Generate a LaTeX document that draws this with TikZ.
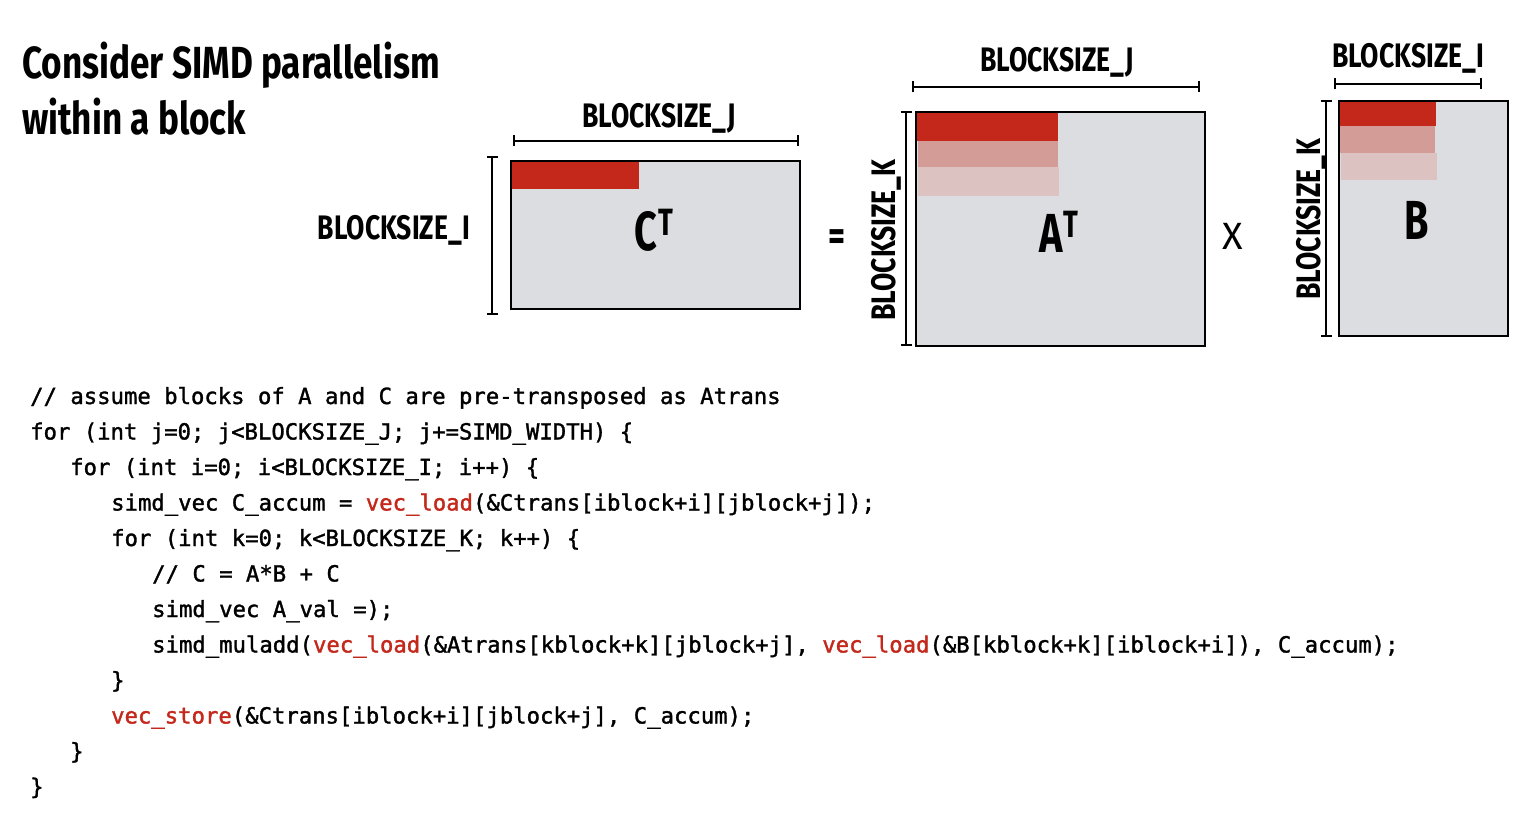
\documentclass[tikz,border=0pt]{standalone}
\usepackage{fontspec}
\usetikzlibrary{arrows.meta}
\newfontfamily\headfont{Fira Sans}[FakeStretch=0.78]
\newfontfamily\matfont{Fira Sans}[FakeStretch=0.72]
\newfontfamily\plainfont{Fira Sans}
\newfontfamily\codefont{DejaVu Sans Mono}[FakeBold=1.5]
\definecolor{blockgray}{HTML}{DCDDE0}
\definecolor{hotred}{HTML}{C4281B}
\definecolor{midred}{HTML}{D49C96}
\definecolor{palered}{HTML}{DDC2C2}
\newcommand{\kw}[1]{\textcolor{hotred}{#1}}
\begin{document}
\begin{tikzpicture}[x=1pt,y=-1pt,
  frame/.style={draw=black, line width=2pt, anchor=north west, inner sep=0pt, outer sep=0pt},
  dimline/.style={line width=1.8pt, {Bar[width=11pt,line width=1.8pt]}-{Bar[width=11pt,line width=1.8pt]}},
  dimlabel/.style={font=\headfont\bfseries\fontsize{34}{34}\selectfont, inner sep=0pt},
  matlabel/.style={font=\matfont\bfseries\fontsize{55}{55}\selectfont, inner sep=0pt, anchor=base},
  titletext/.style={font=\headfont\bfseries\fontsize{45}{45}\selectfont, inner sep=0pt, anchor=base west},
  codeline/.style={font=\codefont\fontsize{22.26}{26}\selectfont, anchor=base west, inner sep=0pt},
]
\useasboundingbox[fill=white] (0,0) rectangle (1528,826);

% title
\node[titletext] (title1) at (22,79) {Consider SIMD parallelism};
\node[titletext] (title2) at (22,135) {within a block};

% C^T block
\fill[blockgray] (511,161) rectangle (800,309);
\fill[hotred] (511,161) rectangle (639,189);
\node[frame, minimum width=289pt, minimum height=148pt] (ct) at (511,161) {};
\node[matlabel] (ctlabel) at (654,251) {C\kern1pt\raisebox{15pt}{\fontsize{38}{38}\selectfont T}};
\coordinate (ctj1) at (513,141);
\coordinate (ctj2) at (799,141);
\draw[dimline] (ctj1) -- (ctj2);
\node[dimlabel, anchor=base] (ctjlab) at (659,128) {BLOCKSIZE\_J};
\coordinate (cti1) at (492,156);
\coordinate (cti2) at (492,315);
\draw[dimline] (cti1) -- (cti2);
\node[dimlabel, anchor=base east] (ctilab) at (470,240) {BLOCKSIZE\_I};

% equals
\node[font=\headfont\bfseries\fontsize{42}{42}\selectfont, inner sep=0pt] (eq) at (837,240) {=};

% A^T block
\fill[blockgray] (916,112) rectangle (1205,346);
\fill[hotred] (916,112) rectangle (1058,141);
\fill[midred] (918,141) rectangle (1058,167);
\fill[palered] (918,167) rectangle (1059,196);
\node[frame, minimum width=289pt, minimum height=234pt] (at) at (916,112) {};
\node[matlabel] (atlabel) at (1059,253) {A\kern1pt\raisebox{15pt}{\fontsize{38}{38}\selectfont T}};
\coordinate (atj1) at (912,87);
\coordinate (atj2) at (1200,87);
\draw[dimline] (atj1) -- (atj2);
\node[dimlabel, anchor=base] (atjlab) at (1057,72) {BLOCKSIZE\_J};
\coordinate (atk1) at (906,111);
\coordinate (atk2) at (906,346);
\draw[dimline] (atk1) -- (atk2);
\node[dimlabel, anchor=base, rotate=90] (atklab) at (895,240) {BLOCKSIZE\_K};

% times
\node[font=\plainfont\fontsize{38}{38}\selectfont, inner sep=0pt] (times) at (1233,236) {X};

% B block
\fill[blockgray] (1339,101) rectangle (1508,336);
\fill[hotred] (1339,101) rectangle (1436,126);
\fill[midred] (1339,126) rectangle (1435,153);
\fill[palered] (1341,153) rectangle (1437,180);
\node[frame, minimum width=169pt, minimum height=235pt] (b) at (1339,101) {};
\node[matlabel] (blabel) at (1417,240) {B};
\coordinate (bi1) at (1334,84);
\coordinate (bi2) at (1482,84);
\draw[dimline] (bi1) -- (bi2);
\node[dimlabel, anchor=base] (bilab) at (1408,68) {BLOCKSIZE\_I};
\coordinate (bk1) at (1326,100);
\coordinate (bk2) at (1326,337);
\draw[dimline] (bk1) -- (bk2);
\node[dimlabel, anchor=base, rotate=90] (bklab) at (1320,219) {BLOCKSIZE\_K};

% code listing
\node[codeline] (code1) at (30,404) {// assume blocks of A and C are pre-transposed as Atrans};
\node[codeline] (code2) at (30,439.5) {for (int j=0; j<BLOCKSIZE\_J; j+=SIMD\_WIDTH) \{};
\node[codeline] (code3) at (70,475) {for (int i=0; i<BLOCKSIZE\_I; i++) \{};
\node[codeline] (code4) at (111,510.5) {simd\_vec C\_accum = \kw{vec\_load}(\&Ctrans[iblock+i][jblock+j]);};
\node[codeline] (code5) at (111,546) {for (int k=0; k<BLOCKSIZE\_K; k++) \{};
\node[codeline] (code6) at (152,581.5) {// C = A*B + C};
\node[codeline] (code7) at (152,617) {simd\_vec A\_val =);};
\node[codeline] (code8) at (152,652.5) {simd\_muladd(\kw{vec\_load}(\&Atrans[kblock+k][jblock+j], \kw{vec\_load}(\&B[kblock+k][iblock+i]), C\_accum);};
\node[codeline] (code9) at (111,688) {\}};
\node[codeline] (code10) at (111,723.5) {\kw{vec\_store}(\&Ctrans[iblock+i][jblock+j], C\_accum);};
\node[codeline] (code11) at (70,759) {\}};
\node[codeline] (code12) at (30,794.5) {\}};
\end{tikzpicture}
\end{document}
